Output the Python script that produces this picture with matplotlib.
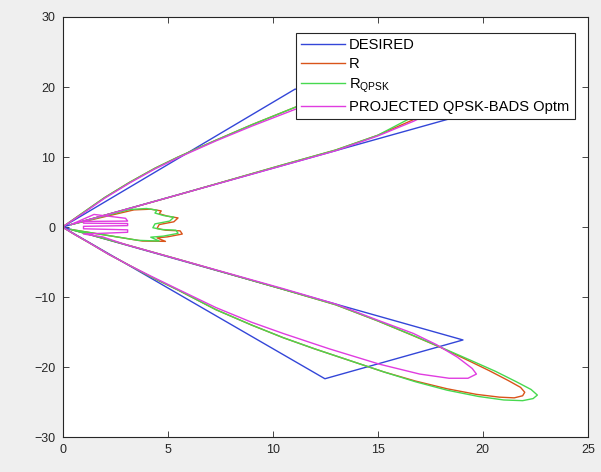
import matplotlib
matplotlib.use("Agg")
import matplotlib.pyplot as plt

plt.rcParams['font.family'] = ['Liberation Sans', 'DejaVu Sans']
plt.rcParams['mathtext.fontset'] = 'custom'
plt.rcParams['mathtext.rm'] = 'Liberation Sans'
plt.rcParams['mathtext.it'] = 'Liberation Sans'

# ---------------- data ----------------
labels = ["DESIRED", "R", r"R$_{\mathrm{QPSK}}$", "PROJECTED QPSK-BADS Optm"]
colors = ["#3346d8", "#d9541a", "#47d94f", "#e03ce0"]

desired_x = [0.0, 12.49, 19.06, 0.0, 19.15, 11.07, 0.0]
desired_y = [0.0, -21.67, -16.13, 0.0, 16.07, 19.70, 0.0]

r_x = [0.0, 0.6, 1.3, 2.2, 3.2, 4.2, 5.5, 7.3, 9.0, 10.5, 12.0, 13.7, 15.3, 16.8,
       18.3, 19.7, 20.8, 21.5, 21.9, 22.0, 21.8, 21.2, 20.3, 19.2, 18.0, 16.6,
       15.0, 13.0, 10.5, 8.0, 5.5, 3.0, 1.2, 0.4,
       3.8, 4.9, 4.5, 5.0, 5.7, 5.6, 4.9, 4.5, 4.6, 5.3, 5.5, 5.0, 4.6, 4.7, 4.2, 3.4,
       0.4, 3.0, 5.5, 8.0, 10.5, 13.0, 15.0, 16.6, 18.0, 19.4, 20.5, 21.4, 21.9,
       21.6, 20.8, 19.7, 18.3, 16.8, 15.3, 13.7, 12.0, 11.15, 9.0, 7.3, 5.5, 4.4,
       3.2, 2.0, 1.0, 0.0]
r_y = [0.0, -1.1, -2.3, -3.9, -5.5, -7.1, -9.0, -11.8, -14.0, -15.8, -17.4, -19.1,
       -20.7, -22.0, -23.1, -23.9, -24.3, -24.4, -24.1, -23.6, -22.9, -21.9, -20.5,
       -18.9, -17.2, -15.4, -13.4, -11.1, -8.9, -6.75, -4.6, -2.5, -1.0, -0.35,
       -2.0, -2.05, -1.55, -1.4, -1.0, -0.55, -0.45, -0.2, 0.35, 0.75, 1.3, 1.55,
       1.9, 2.3, 2.55, 2.45,
       0.35, 2.5, 4.6, 6.75, 8.9, 11.0, 13.1, 15.2, 17.2, 19.4, 21.1, 22.7, 23.8,
       24.3, 24.4, 24.0, 23.2, 22.0, 20.8, 19.3, 17.8, 17.2, 14.6, 12.4, 10.0, 8.4,
       6.4, 4.2, 2.1, 0.0]

rq_x = [0.0, 0.6, 1.3, 2.2, 3.2, 4.2, 5.5, 7.3, 9.0, 10.5, 12.0, 13.7, 15.3, 16.8,
        18.3, 19.8, 21.0, 21.9, 22.4, 22.6, 22.3, 21.6, 20.6, 19.4, 18.1, 16.7,
        15.0, 13.0, 10.5, 8.0, 5.5, 3.0, 1.2, 0.4,
        3.6, 4.6, 4.2, 4.8, 5.5, 5.4, 4.7, 4.3, 4.4, 5.1, 5.3, 4.8, 4.4, 4.5, 4.0, 3.2,
        0.4, 3.0, 5.5, 8.0, 10.5, 13.0, 15.0, 16.4, 17.8, 19.4, 20.7, 21.7, 22.4,
        22.0, 21.0, 19.8, 18.3, 16.8, 15.3, 13.7, 12.0, 11.15, 9.0, 7.3, 5.5, 4.4,
        3.2, 2.0, 1.0, 0.0]
rq_y = [0.0, -1.1, -2.3, -3.9, -5.5, -7.1, -9.0, -11.8, -14.0, -15.8, -17.4, -19.1,
        -20.7, -22.1, -23.3, -24.2, -24.7, -24.8, -24.5, -24.0, -23.2, -22.1, -20.6,
        -19.0, -17.3, -15.5, -13.4, -11.1, -8.9, -6.75, -4.6, -2.5, -1.0, -0.35,
        -1.9, -2.0, -1.45, -1.3, -0.9, -0.45, -0.35, -0.1, 0.45, 0.85, 1.4, 1.65,
        2.0, 2.4, 2.65, 2.5,
        0.35, 2.5, 4.6, 6.75, 8.9, 11.0, 13.1, 15.3, 17.3, 19.6, 21.4, 23.0, 24.2,
        24.7, 24.7, 24.2, 23.3, 22.1, 20.8, 19.3, 17.8, 17.2, 14.6, 12.4, 10.0, 8.4,
        6.4, 4.2, 2.1, 0.0]

pj_x = [0.0, 0.6, 1.3, 2.2, 3.2, 4.2, 5.5, 7.3, 9.0, 10.5, 12.7, 15.1, 17.0, 18.4,
        19.3, 19.7, 19.5, 18.8, 17.8, 16.7, 15.0, 13.0, 10.5, 8.0, 5.5, 3.0, 1.9,
        1.0, 3.1, 3.1, 1.0, 1.0, 3.1, 3.1, 1.0, 1.0, 3.1, 3.0, 1.5,
        0.4, 3.0, 5.5, 8.0, 10.5, 13.0, 15.0, 16.7, 18.0, 19.0, 19.5, 19.3, 18.5,
        17.2, 15.3, 13.0, 11.15, 9.0, 7.3, 5.5, 4.4, 3.2, 2.0, 1.0, 0.0]
pj_y = [0.0, -1.1, -2.3, -3.9, -5.5, -7.0, -8.9, -11.5, -13.6, -15.2, -17.4, -19.6,
        -21.0, -21.6, -21.6, -21.0, -20.2, -18.6, -16.8, -15.2, -13.3, -11.0, -8.8,
        -6.7, -4.6, -2.5, -1.4,
        -1.0, -0.75, -0.4, -0.25, 0.1, 0.2, 0.5, 0.55, 0.8, 0.85, 1.25, 1.8,
        0.35, 2.5, 4.6, 6.7, 8.8, 10.9, 13.0, 15.1, 17.0, 18.6, 20.0, 21.0, 21.3,
        21.0, 19.8, 18.2, 16.9, 14.4, 12.3, 9.9, 8.3, 6.3, 4.1, 2.0, 0.0]

x_ticks = [0, 5, 10, 15, 20, 25]
y_ticks = [-30, -20, -10, 0, 10, 20, 30]

# ---------------- figure ----------------
fig = plt.figure(figsize=(6.01, 4.72), dpi=100)
fig.patch.set_facecolor("#efefef")
ax = fig.add_axes([0.104, 0.074, 0.874, 0.890])
ax.set_facecolor("white")

series = [(desired_x, desired_y), (r_x, r_y), (rq_x, rq_y), (pj_x, pj_y)]
for (xs, ys), lab, col in zip(series, labels, colors):
    ax.plot(xs, ys, color=col, lw=1.0, label=lab)

ax.set_xlim(0, 25)
ax.set_ylim(-30, 30)
ax.set_xticks(x_ticks)
ax.set_yticks(y_ticks)
ax.tick_params(direction="in", length=4, width=0.6, top=True, right=True,
               labelsize=9, colors="#262626", pad=5)
for sp in ax.spines.values():
    sp.set_color("#262626")
    sp.set_linewidth(0.8)

leg = ax.legend(loc="upper right", bbox_to_anchor=(0.975, 0.962),
                borderaxespad=0, fancybox=False, framealpha=1,
                edgecolor="#262626", fontsize=10.6, handlelength=2.95,
                handletextpad=0.3, borderpad=0.35, labelspacing=0.36)
leg.get_frame().set_linewidth(0.8)

fig.savefig("out.png", dpi=100, facecolor=fig.get_facecolor())
